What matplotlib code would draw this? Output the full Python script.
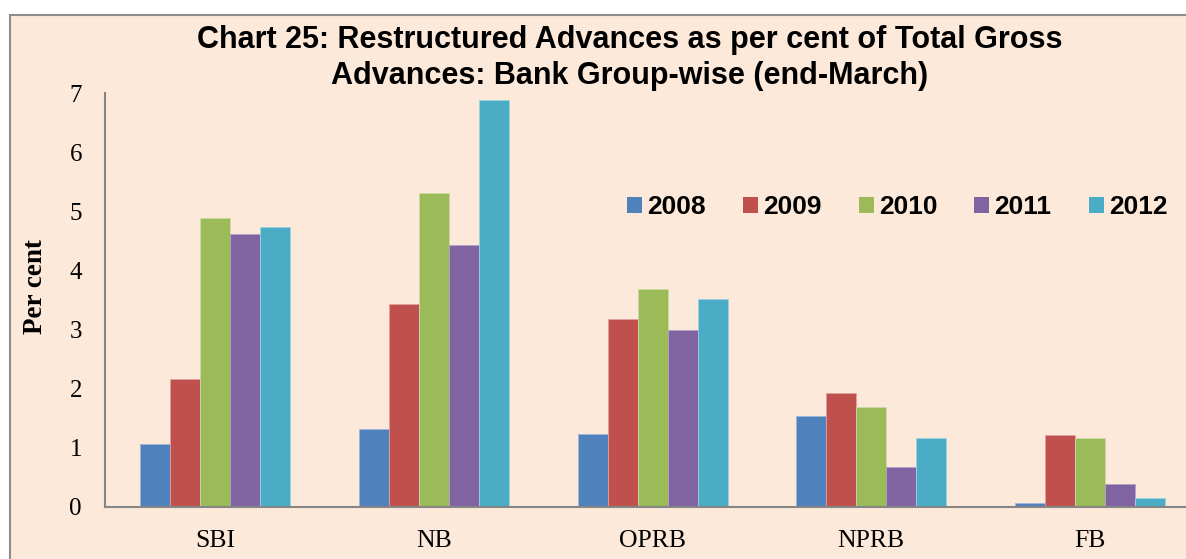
import matplotlib
matplotlib.use("Agg")
import matplotlib.pyplot as plt
import numpy as np
from matplotlib.patches import Rectangle

categories = ["SBI", "NB", "OPRB", "NPRB", "FB"]
years = ["2008", "2009", "2010", "2011", "2012"]
v2008 = [1.07, 1.31, 1.23, 1.53, 0.06]
v2009 = [2.16, 3.44, 3.18, 1.92, 1.21]
v2010 = [4.89, 5.31, 3.68, 1.69, 1.16]
v2011 = [4.61, 4.43, 2.99, 0.67, 0.39]
v2012 = [4.74, 6.88, 3.51, 1.16, 0.14]
series = [v2008, v2009, v2010, v2011, v2012]
colors = ["#4F81BD", "#C0504D", "#9BBB59", "#8064A2", "#4BACC6"]
edges = ["#9DB6DA", "#E0A09E", "#C8DBA6", "#B3A2C8", "#9DD3E2"]

W, H = 1186, 559
fig = plt.figure(figsize=(W / 100, H / 100), dpi=100)
fig.patch.set_facecolor("white")
fig.patches.append(Rectangle((10 / W, -0.2), 2.0, (H - 15) / H + 0.2,
                             transform=fig.transFigure, facecolor="#FDE9D9",
                             edgecolor="#8C8C8C", linewidth=1.5, zorder=-5))

ax = fig.add_axes([105.5 / W, (H - 506.7) / H, 5 * 218.8 / W, (506.7 - 93.3) / H])
ax.set_zorder(2)
ax.set_facecolor("none")
x = np.arange(len(categories))
bw = 30 / 218.8
handles = []
for i, (vals, c, ec, yr) in enumerate(zip(series, colors, edges, years)):
    b = ax.bar(x + (i - 2) * bw, vals, width=bw, color=c, edgecolor=ec,
               linewidth=0.6, label=yr, zorder=2)
    handles.append(b)

ax.set_xlim(-0.5, 4.5)
ax.set_ylim(0, 7)
ax.set_yticks(range(0, 8))
ax.set_xticks(x)
ax.set_xticklabels(categories)
for s in ["top", "right"]:
    ax.spines[s].set_visible(False)
for s in ["left", "bottom"]:
    ax.spines[s].set_color("#868686")
    ax.spines[s].set_linewidth(1.5)
ax.tick_params(axis="both", length=0)
ax.tick_params(axis="y", pad=17, labelsize=18)
ax.tick_params(axis="x", pad=17, labelsize=18.5)
for lab in ax.get_xticklabels() + ax.get_yticklabels():
    lab.set_fontfamily("Liberation Serif")

fig.text(36 / W, 1 - 287 / H, "Per cent", rotation=90, ha="center", va="center",
         fontsize=19.5, fontweight="bold", fontfamily="Liberation Serif")

fig.text(630 / W, 1 - 58 / H,
         "Chart 25: Restructured Advances as per cent of Total Gross\nAdvances: Bank Group-wise (end-March)",
         ha="center", va="center", fontsize=22, fontweight="bold",
         fontfamily="Liberation Sans", linespacing=1.27)

leg = fig.legend(handles=handles, labels=years, loc="center left",
                 bbox_to_anchor=(627 / W, 1 - 207 / H), ncol=5, frameon=False,
                 handlelength=0.57, handleheight=0.57, handletextpad=0.19,
                 columnspacing=1.41, borderaxespad=0, borderpad=0,
                 prop={"family": "Liberation Sans", "weight": "bold", "size": 19})
for h in leg.legend_handles:
    h.set_edgecolor("none")

fig.savefig("out.png", dpi=100)
